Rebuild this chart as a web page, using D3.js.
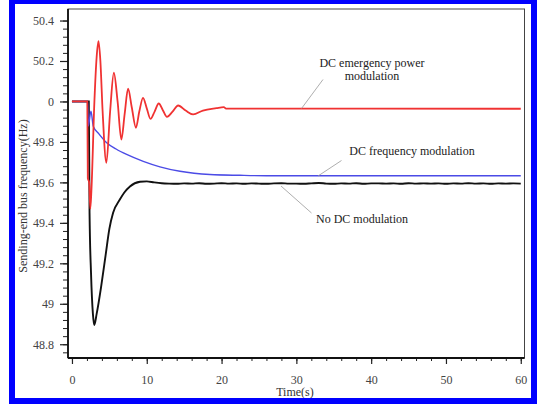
<!DOCTYPE html>
<html>
<head>
<meta charset="utf-8">
<script src="https://cdn.jsdelivr.net/npm/d3@7"></script>
<style>
  body { margin: 0; background: #fff; }
  svg { display: block; }
  svg text { font-family: "Liberation Serif", "Times New Roman", "DejaVu Serif", serif; }
</style>
</head>
<body>
<svg id="chart" width="537" height="407"></svg>
<script>
// tick values / labels
var xTicks = [0, 10, 20, 30, 40, 50, 60];
var yTicks = [50.4, 50.2, 50.0, 49.8, 49.6, 49.4, 49.2, 49.0, 48.8];
var yTickLabels = ["50.4", "50.2", "0", "49.8", "49.6", "49.4", "49.2", "49", "48.8"];

// no DC modulation (black)
var blackT = [0, 2.25, 2.35, 2.55, 2.8, 2.98, 3.3, 3.9, 4.5, 5.0, 5.5, 6.4, 7.0, 7.75, 9.1, 10, 11,
  12, 13, 14, 15, 16, 17, 18, 19, 20, 21, 22, 23, 24, 25, 26, 27, 28, 29, 30, 31, 32, 33, 34, 35,
  36, 37, 38, 39, 40, 41, 42, 43, 44, 45, 46, 47, 48, 49, 50, 51, 52, 53, 54, 55, 56, 57, 58, 59, 60];
var blackV = [50, 50, 49.45, 49.15, 48.95, 48.895, 48.95, 49.085, 49.24, 49.37, 49.45, 49.515, 49.55, 49.58, 49.603, 49.605, 49.6,
  49.596, 49.594, 49.593, 49.595, 49.594, 49.596, 49.593, 49.594, 49.596, 49.594, 49.595, 49.593, 49.595, 49.594, 49.593, 49.595,
  49.596, 49.594, 49.594, 49.593, 49.595, 49.597, 49.594, 49.593, 49.595, 49.594, 49.596, 49.593, 49.595, 49.595, 49.594, 49.595,
  49.593, 49.596, 49.594, 49.595, 49.594, 49.595, 49.593, 49.595, 49.594, 49.596, 49.594, 49.595, 49.593, 49.595, 49.594, 49.595, 49.594];

// DC frequency modulation (blue)
var blueT = [0, 2.1, 2.18, 2.54, 2.85, 3.6, 4.64, 5.9, 7.31, 9.53, 11.76, 14.44, 18.45, 22.46, 26, 60];
var blueV = [50, 50, 49.878, 49.952, 49.878, 49.84, 49.796, 49.765, 49.738, 49.704, 49.677, 49.655, 49.639, 49.635, 49.633, 49.633];

// DC emergency power modulation (red)
var redT = [0, 2.05, 2.12, 2.3, 2.45, 2.6, 3.0, 3.3, 3.55, 3.8, 4.1, 4.6, 5.1, 5.6, 6.1, 6.6, 7.05, 7.5, 8.0, 8.55,
  9.0, 9.5, 10.0, 10.5, 11.05, 11.6, 12.15, 12.7, 13.45, 14.2, 15.2, 16.2, 17.5, 19.3, 20.3, 20.6, 60];
var redV = [50, 50, 49.62, 49.6, 49.47, 49.56, 50.0, 50.22, 50.298, 50.2, 49.95, 49.697, 49.95, 50.142, 50.0, 49.812, 49.94, 50.063, 49.97, 49.87,
  49.95, 50.018, 49.966, 49.914, 49.95, 49.99, 49.957, 49.924, 49.95, 49.98, 49.955, 49.936, 49.955, 49.967, 49.972, 49.965, 49.964];

var svg = d3.select("#chart");

var x = d3.scaleLinear().domain([-0.53, 60.5]).range([68, 524.5]);
var y = d3.scaleLinear().domain([48.732, 50.457]).range([358, 9]);

// frame (thin top / right)
svg.append("rect")
  .attr("x", 68).attr("y", 9)
  .attr("width", 524.5 - 68).attr("height", 358 - 9)
  .attr("fill", "none")
  .attr("stroke", "#444")
  .attr("stroke-width", 1);

// minor ticks
svg.append("g")
  .attr("transform", "translate(68,0)")
  .call(d3.axisLeft(y).tickValues(d3.range(48.76, 50.44, 0.04)).tickSize(5).tickFormat(""))
  .call(function (g) { g.select(".domain").remove(); })
  .selectAll("line").attr("stroke", "#222");

svg.append("g")
  .attr("transform", "translate(0,358)")
  .call(d3.axisBottom(x).tickValues(d3.range(0, 61, 2)).tickSize(3).tickFormat(""))
  .call(function (g) { g.select(".domain").remove(); })
  .selectAll("line").attr("stroke", "#222");

// major axes
var yAxis = svg.append("g")
  .attr("transform", "translate(68,0)")
  .call(d3.axisLeft(y).tickValues(yTicks).tickSize(8).tickPadding(6)
    .tickFormat(function (d, i) { return yTickLabels[i]; }));

var xAxis = svg.append("g")
  .attr("transform", "translate(0,358)")
  .call(d3.axisBottom(x).tickValues(xTicks).tickSize(6).tickPadding(11));

[yAxis, xAxis].forEach(function (g) {
  g.attr("font-family", null);
  g.select(".domain").remove();
  g.selectAll("line").attr("stroke", "#222").attr("stroke-width", 1.2);
  g.selectAll("text")
    .attr("font-size", "12px")
    .attr("fill", "#444");
});

// thick left and bottom axis lines
svg.append("line").attr("x1", 68).attr("x2", 68).attr("y1", 9).attr("y2", 358)
  .attr("stroke", "#111").attr("stroke-width", 1.8);
svg.append("line").attr("x1", 68).attr("x2", 524.5).attr("y1", 358).attr("y2", 358)
  .attr("stroke", "#111").attr("stroke-width", 1.8);

// series
function pts(t, v) { return t.map(function (d, i) { return [d, v[i]]; }); }
var line = d3.line()
  .x(function (d) { return x(d[0]); })
  .y(function (d) { return y(d[1]); })
  .curve(d3.curveMonotoneX);

svg.append("path").attr("d", line(pts(blackT, blackV)))
  .attr("fill", "none").attr("stroke", "#111").attr("stroke-width", 1.9);
svg.append("path").attr("d", line(pts(blueT, blueV)))
  .attr("fill", "none").attr("stroke", "#4b4be6").attr("stroke-width", 1.4);
svg.append("path").attr("d", line(pts(redT, redV)))
  .attr("fill", "none").attr("stroke", "#f03232").attr("stroke-width", 1.8);

// annotations
function note(lines, cx, baseY) {
  lines.forEach(function (s, i) {
    svg.append("text")
      .attr("x", cx).attr("y", baseY + i * 13.5)
      .attr("text-anchor", "middle")
      .attr("font-size", "12px")
      .attr("fill", "#222")
      .text(s);
  });
}
function pointer(x1, y1, x2, y2) {
  svg.append("line")
    .attr("x1", x1).attr("y1", y1).attr("x2", x2).attr("y2", y2)
    .attr("stroke", "#999").attr("stroke-width", 0.8);
}

note(["DC emergency power", "modulation"], 372, 66.5);
pointer(323, 79.5, 301.5, 108.5);

note(["DC frequency modulation"], 412, 155);
pointer(341.5, 160.5, 318, 176);

note(["No DC modulation"], 362, 222.5);
pointer(311.5, 213, 281, 186);

// axis titles
svg.append("text")
  .attr("x", 295).attr("y", 396)
  .attr("text-anchor", "middle")
  .attr("font-size", "12px").attr("fill", "#333")
  .text("Time(s)");

svg.append("text")
  .attr("transform", "translate(27,196) rotate(-90)")
  .attr("text-anchor", "middle")
  .attr("font-size", "12px").attr("fill", "#333")
  .text("Sending-end bus frequency(Hz)");

// blue border
svg.append("rect")
  .attr("x", 12).attr("y", 1)
  .attr("width", 522).attr("height", 400)
  .attr("fill", "none")
  .attr("stroke", "#0000ff")
  .attr("stroke-width", 6);
</script>
</body>
</html>
